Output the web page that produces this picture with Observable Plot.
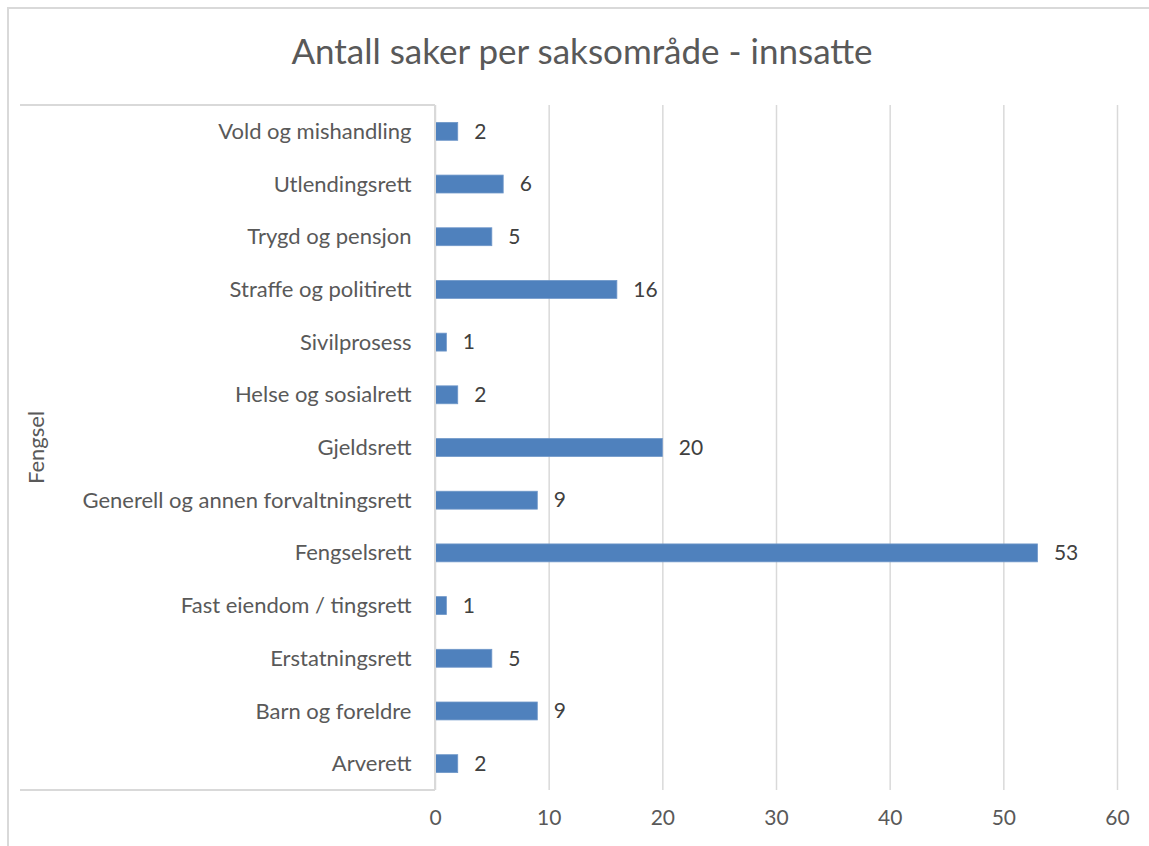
<!DOCTYPE html>
<html>
<head>
<meta charset="utf-8">
<script src="https://cdn.jsdelivr.net/npm/d3@7"></script>
<script src="https://cdn.jsdelivr.net/npm/@observablehq/plot@0.6"></script>
<style>
  html, body { margin: 0; padding: 0; background: #fff; }
  #wrap { position: relative; width: 1149px; height: 846px; overflow: hidden; font-family: Lato, "Open Sans", sans-serif; }
  #border { position: absolute; left: 7px; top: 7px; width: 1170px; height: 870px; border: 2px solid #d9d9d9; box-sizing: border-box; }
  #title { position: absolute; left: 0; width: 1164px; top: 29px; text-align: center; font-size: 35px; color: #595959; }
  #chart { position: absolute; left: 0; top: 0; }
</style>
</head>
<body>
<div id="wrap">
  <div id="border"></div>
  <div id="chart"></div>
  <div id="title">Antall saker per saksområde - innsatte</div>
</div>
<script>
const categories = [
  "Vold og mishandling",
  "Utlendingsrett",
  "Trygd og pensjon",
  "Straffe og politirett",
  "Sivilprosess",
  "Helse og sosialrett",
  "Gjeldsrett",
  "Generell og annen forvaltningsrett",
  "Fengselsrett",
  "Fast eiendom / tingsrett",
  "Erstatningsrett",
  "Barn og foreldre",
  "Arverett"
];
const values = [2, 6, 5, 16, 1, 2, 20, 9, 53, 1, 5, 9, 2];
const xTicks = [0, 10, 20, 30, 40, 50, 60];
const groupLabel = "Fengsel";

const data = categories.map((c, i) => ({cat: c, value: values[i]}));

const plot = Plot.plot({
  width: 1149,
  height: 846,
  marginLeft: 435,
  marginRight: 32,
  marginTop: 105,
  marginBottom: 56,
  style: {fontFamily: "Lato, 'Open Sans', sans-serif", fontSize: "21px", color: "#595959", background: "transparent"},
  x: {domain: [0, 60], ticks: xTicks},
  y: {domain: categories, paddingInner: 0.66, paddingOuter: 0.33, round: false},
  marks: [
    Plot.gridX(xTicks, {stroke: "#d9d9d9", strokeOpacity: 1, strokeWidth: 1.5}),
    Plot.barX(data, {x: "value", y: "cat", fill: "#4f81bd", stroke: "#6f97c9", strokeWidth: 0.8}),
    Plot.text(data, {x: "value", y: "cat", text: d => String(d.value), dx: 16, textAnchor: "start", fill: "#404040", fontSize: 21}),
    Plot.axisX(xTicks, {tickSize: 0, tickPadding: 20, fontSize: 21, label: null, fill: "#595959"}),
    Plot.axisY({tickSize: 0, tickPadding: 24, fontSize: 22, label: null, fill: "#595959"})
  ]
});
document.getElementById("chart").appendChild(plot);

// category-group box lines and group label, positioned from the plot's scales
const ys = plot.scale("y").range;
const xs = plot.scale("x").range;
const svg = d3.select(plot);
const yTop = Math.min(...ys), yBot = Math.max(...ys);
const g = svg.append("g").attr("stroke", "#d9d9d9").attr("stroke-width", 2);
g.append("line").attr("x1", 20).attr("x2", xs[0]).attr("y1", yTop).attr("y2", yTop);
g.append("line").attr("x1", 20).attr("x2", xs[0]).attr("y1", yBot).attr("y2", yBot);
g.append("line").attr("x1", xs[0]).attr("x2", xs[0]).attr("y1", yTop).attr("y2", yBot);
svg.append("text")
  .attr("transform", `translate(38,${(yTop + yBot) / 2}) rotate(-90)`)
  .attr("text-anchor", "middle")
  .attr("dominant-baseline", "middle")
  .attr("font-size", 22)
  .attr("fill", "#595959")
  .text(groupLabel);
</script>
</body>
</html>
